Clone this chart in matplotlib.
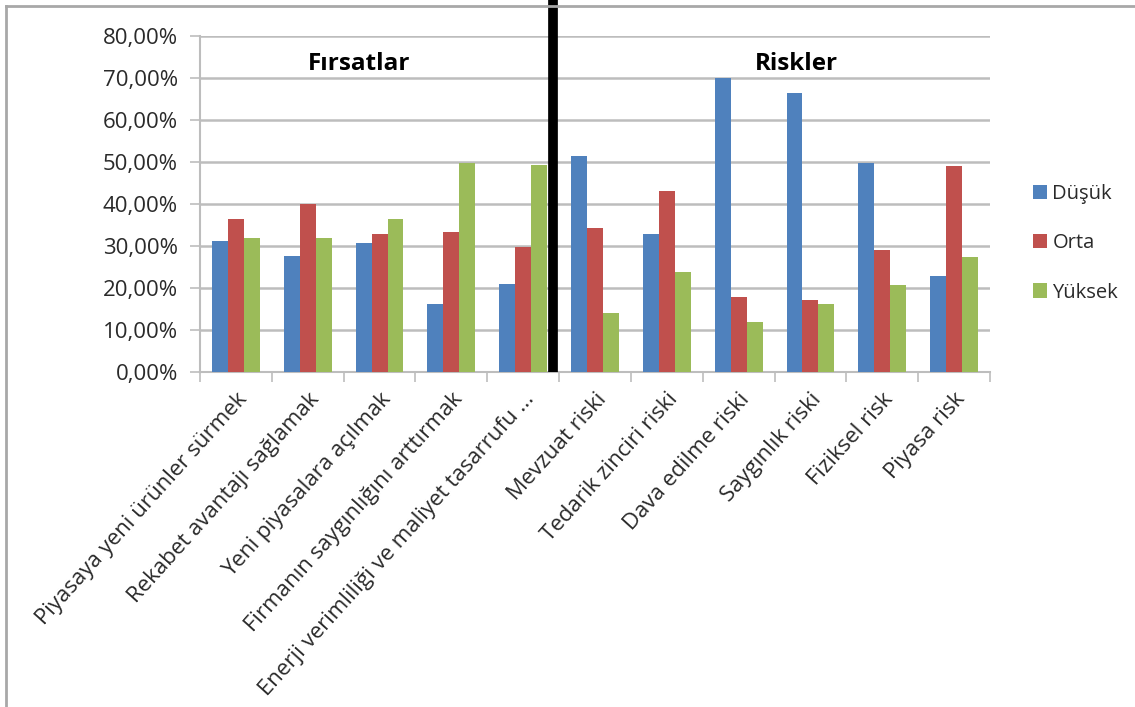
#!/usr/bin/env python3
"""Grouped bar chart: opportunity / risk ratings (Düşük, Orta, Yüksek)."""

import matplotlib

matplotlib.use("Agg")
import matplotlib.pyplot as plt
import numpy as np
from matplotlib.lines import Line2D
from matplotlib.patches import Patch
from matplotlib.ticker import FuncFormatter, MultipleLocator

categories = [
    "Piyasaya yeni ürünler sürmek",
    "Rekabet avantajı sağlamak",
    "Yeni piyasalara açılmak",
    "Firmanın saygınlığını arttırmak",
    "Enerji verimliliği ve maliyet tasarrufu ...",
    "Mevzuat riski",
    "Tedarik zinciri riski",
    "Dava edilme riski",
    "Saygınlık riski",
    "Fiziksel risk",
    "Piyasa risk",
]
dusuk = [31.2, 27.6, 30.7, 16.1, 20.9, 51.5, 32.8, 70.0, 66.5, 49.8, 22.9]
orta = [36.4, 40.0, 32.8, 33.4, 29.8, 34.3, 43.2, 17.8, 17.1, 29.0, 49.0]
yuksek = [31.8, 31.8, 36.4, 49.8, 49.2, 14.1, 23.9, 11.9, 16.1, 20.7, 27.5]
series_names = ["Düşük", "Orta", "Yüksek"]
colors = ["#4F81BD", "#C0504D", "#9BBB59"]

plt.rcParams["font.family"] = ["Open Sans", "DejaVu Sans"]
TEXT = "#2a2a2a"
GRID = "#bdbdbd"

W, H = 1135, 707
fig = plt.figure(figsize=(W / 100, H / 100), dpi=100)
ax = fig.add_axes([200 / W, 1 - 372 / H, 790 / W, 336 / H])

x = np.arange(len(categories))
bw = 0.222
for i, (vals, name, c) in enumerate(zip([dusuk, orta, yuksek], series_names, colors)):
    ax.bar(x + (i - 1) * bw, vals, width=bw, color=c, label=name, zorder=3)

ax.set_xlim(-0.5, len(categories) - 0.5)
ax.set_ylim(0, 80)
ax.yaxis.set_major_locator(MultipleLocator(10))
ax.yaxis.set_major_formatter(FuncFormatter(lambda v, _: f"{v:.2f}%".replace(".", ",")))
ax.grid(axis="y", color=GRID, linewidth=1.8, zorder=0)
ax.set_axisbelow(True)

for s in ["top", "right"]:
    ax.spines[s].set_visible(False)
for s in ["left", "bottom"]:
    ax.spines[s].set_color(GRID)
    ax.spines[s].set_linewidth(1.5)

ax.tick_params(axis="y", length=7, width=1.2, color=GRID, pad=9, labelsize=16, labelcolor=TEXT)
ax.set_xticks(x)
ax.set_xticklabels(categories, rotation=48, ha="right", rotation_mode="anchor",
                   fontsize=16, color=TEXT)
ax.tick_params(axis="x", which="major", length=0, pad=12)
ax.set_xticks(np.arange(len(categories) + 1) - 0.5, minor=True)
ax.tick_params(axis="x", which="minor", length=7, width=1.2, color=GRID)

# divider between the two groups
ax.plot([4.42, 4.42], [0, 1.11], color="black", linewidth=7,
        transform=ax.get_xaxis_transform(), clip_on=False, zorder=5, solid_capstyle="butt")

ax.text(1.71, 73.3, "Fırsatlar", ha="center", va="center", fontsize=17.5, fontweight="bold", color="black")
ax.text(7.81, 73.3, "Riskler", ha="center", va="center", fontsize=17.5, fontweight="bold", color="black")

handles = [Patch(facecolor=c, label=n) for c, n in zip(colors, series_names)]
fig.legend(handles=handles, loc="upper left", bbox_to_anchor=(1015 / W, 1 - 166 / H),
           frameon=False, fontsize=14.5, labelcolor=TEXT, handlelength=0.7, handleheight=0.7,
           handletextpad=0.25, labelspacing=1.45)

# outer frame (top and left edges)
fig.add_artist(Line2D([6 / W, 6 / W], [0, 1 - 6 / H], color="#a8a8a8", linewidth=2,
                      transform=fig.transFigure))
fig.add_artist(Line2D([6 / W, 1], [1 - 6 / H, 1 - 6 / H], color="#a8a8a8", linewidth=2,
                      transform=fig.transFigure))

fig.savefig("out.png", dpi=100)
